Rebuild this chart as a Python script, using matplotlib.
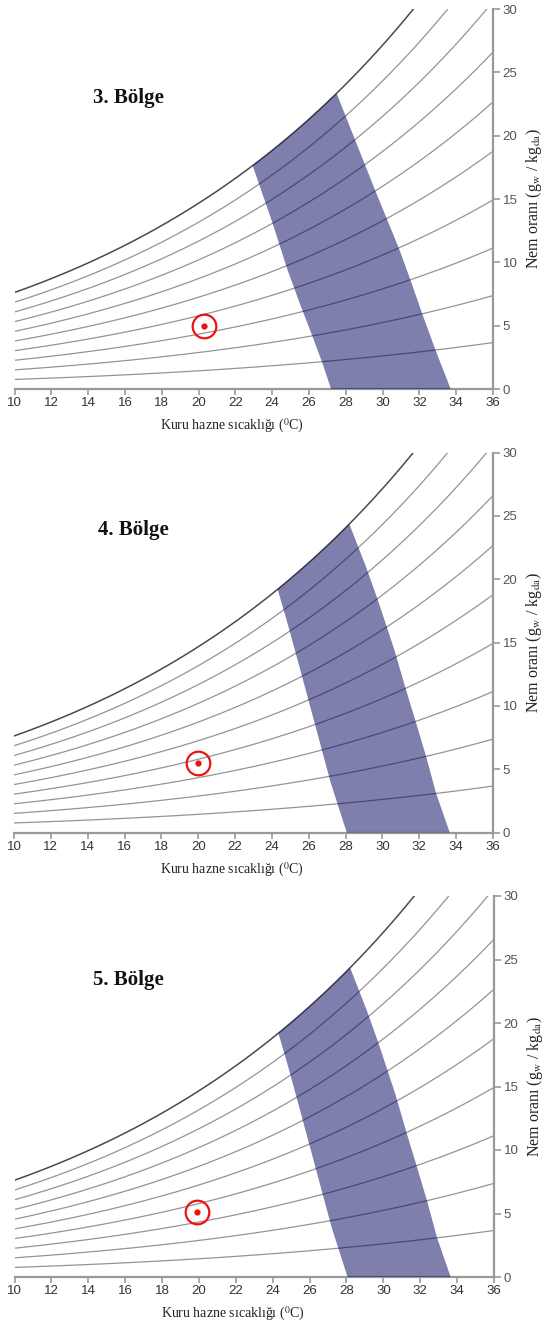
import numpy as np
import matplotlib
matplotlib.use("Agg")
import matplotlib.pyplot as plt

# ---------------- data ----------------
rh_levels = [10, 20, 30, 40, 50, 60, 70, 80, 90, 100]      # relative humidity curves (%)
x_ticks = [10, 12, 14, 16, 18, 20, 22, 24, 26, 28, 30, 32, 34, 36]
y_ticks = [0, 5, 10, 15, 20, 25, 30]

panel_titles = ["3. Bölge", "4. Bölge", "5. Bölge"]
title_x = [16.2, 16.5, 16.2]
title_y = [22.96, 23.9, 23.36]

point_t = [20.28, 19.97, 19.89]   # dry bulb temperature of marked state
point_w = [4.94, 5.52, 5.12]      # humidity ratio of marked state

# comfort zone edges (temperature, humidity ratio)
zone3_left_t = [22.94, 24.02, 24.83, 25.56, 26.19, 26.73, 27.2]
zone3_left_w = [17.7, 13.1, 9.42, 6.53, 4.16, 2.05, 0.0]
zone3_right_t = [27.5, 29.62, 30.25, 30.88, 31.51, 32.14, 32.87, 33.7]
zone3_right_w = [23.4, 15.6, 13.37, 11.13, 8.63, 6.0, 3.1, 0.0]

zone45_left_t = [24.31, 24.85, 25.49, 26.03, 26.66, 27.2, 28.06]
zone45_left_w = [19.29, 16.5, 13.1, 10.2, 6.79, 3.89, 0.0]
zone45_right_t = [28.2, 29.1, 29.74, 30.65, 31.28, 31.83, 32.37, 32.91, 33.65]
zone45_right_w = [24.4, 21.0, 18.4, 14.4, 11.26, 8.63, 6.0, 3.1, 0.0]

zones = [
    (zone3_left_t, zone3_left_w, zone3_right_t, zone3_right_w),
    (zone45_left_t, zone45_left_w, zone45_right_t, zone45_right_w),
    (zone45_left_t, zone45_left_w, zone45_right_t, zone45_right_w),
]

P_ATM = 101.325  # kPa


def p_sat(t):
    return 0.61094 * np.exp(17.625 * t / (t + 243.04))


def hum_ratio(t, rh):
    pw = rh / 100.0 * p_sat(t)
    return 622.0 * pw / (P_ATM - pw)


# ---------------- figure ----------------
plt.rcParams['font.family'] = ['Liberation Sans', 'DejaVu Sans']
plt.rcParams['mathtext.fontset'] = 'stix'

fig = plt.figure(figsize=(5.43, 13.25), dpi=100)
W, H = 543.0, 1325.0
panel_px = [(14.5, 493.0, 9.0, 389.0), (14.0, 493.0, 452.5, 832.5), (14.5, 494.0, 896.0, 1277.0)]

serif = ['Liberation Serif', 'DejaVu Serif']
tt = np.linspace(10, 36, 400)

for i, (l, r, t, b) in enumerate(panel_px):
    ax = fig.add_axes([l / W, 1 - b / H, (r - l) / W, (b - t) / H])
    ax.set_xlim(10, 36)
    ax.set_ylim(0, 30)

    for rh in rh_levels:
        if rh == 100:
            ax.plot(tt, hum_ratio(tt, rh), color='#4a4a4a', lw=1.1, zorder=2)
        else:
            ax.plot(tt, hum_ratio(tt, rh), color='#949494', lw=0.9, zorder=2)

    lt, lw_, rt, rw = zones[i]
    top_t = np.linspace(lt[0], rt[0], 40)
    top_w = hum_ratio(top_t, 100)
    poly_t = list(top_t) + list(rt[1:]) + list(lt[::-1][:-1])
    poly_w = list(top_w) + list(rw[1:]) + list(lw_[::-1][:-1])
    ax.fill(poly_t, poly_w, color='#00005c', alpha=0.5, lw=0, zorder=3)

    ax.plot([point_t[i]], [point_w[i]], marker='o', ms=17, mfc='none',
            mec='#ee1111', mew=1.6, zorder=5)
    ax.plot([point_t[i]], [point_w[i]], marker='o', ms=4.5, mfc='#ee1111',
            mec='#ee1111', mew=0, zorder=5)

    ax.text(title_x[i], title_y[i], panel_titles[i], family=serif,
            fontweight='bold', fontsize=15, ha='center', va='center', color='#111111')

    for side in ['left', 'top']:
        ax.spines[side].set_visible(False)
    for side in ['bottom', 'right']:
        ax.spines[side].set_color('#999999')
        ax.spines[side].set_linewidth(1.6)

    ax.yaxis.tick_right()
    ax.set_xticks(x_ticks)
    ax.set_yticks(y_ticks)
    ax.tick_params(axis='x', direction='out', length=4, width=1.2, color='#999999',
                   labelsize=9.5, labelcolor='#333333', pad=2)
    ax.tick_params(axis='y', direction='out', length=5, width=1.2, color='#999999',
                   labelsize=9.5, labelcolor='#555555', pad=2)
    ax.set_facecolor('none')

    ax.text(0.455, -0.098, r'Kuru hazne sıcaklığı ($^{0}$C)', transform=ax.transAxes,
            family=serif, fontsize=10, ha='center', va='center', color='#222222')
    ax.text(1.085, 0.5, r'Nem oranı (g$_{\mathrm{w}}$ / kg$_{\mathrm{da}}$)', transform=ax.transAxes,
            family=serif, fontsize=11.5, rotation=90, ha='center', va='center', color='#222222')

fig.savefig('out.png', dpi=100, facecolor='white')
